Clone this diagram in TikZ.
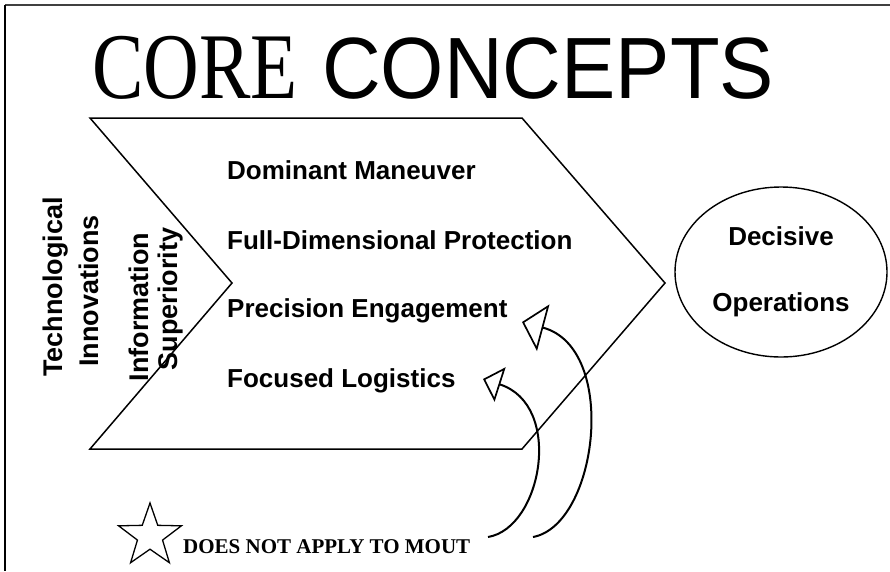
\documentclass[tikz,border=0pt]{standalone}
\usepackage{graphicx}
\usepackage{fontspec}
\setmainfont{Liberation Serif}
\newfontfamily\arialf{Liberation Sans}
\usetikzlibrary{shapes.geometric,arrows.meta}
\begin{document}
\begin{tikzpicture}[x=1pt,y=-1pt,
  item/.style={anchor=base west,inner sep=0pt,font=\arialf\bfseries\fontsize{26}{30}\selectfont},
  vert/.style={rotate=90,inner sep=0pt,font=\arialf\bfseries\fontsize{27}{33}\selectfont},
  outline/.style={line width=1.5pt,line join=miter},
  bigarr/.style={line width=2pt,-{Triangle[open,length=22pt,width=48pt,line width=1.7pt]}},
  smallarr/.style={line width=2pt,-{Triangle[open,length=18pt,width=36pt,line width=1.7pt]}}
]
\useasboundingbox (0,0) rectangle (890,571);
% frame
\draw[line width=2pt,black!75] (5,5) -- (890,5);
\draw[line width=2pt] (5,5) -- (5,571);
% title
\node[anchor=base west,inner sep=0pt,font=\fontsize{94}{100}\selectfont] (core) at (92,98) {\scalebox{0.82}[1]{CORE}};
\node[anchor=base west,inner sep=0pt,font=\arialf\fontsize{87}{100}\selectfont] (concepts) at (322,98) {\scalebox{0.935}[1]{CONCEPTS}};
% chevron
\coordinate (c1) at (90,118);
\coordinate (c2) at (522,118);
\coordinate (c3) at (665,283);
\coordinate (c4) at (522,449);
\coordinate (c5) at (90,449);
\coordinate (c6) at (232,283);
\draw[outline] (c1) -- (c2) -- (c3) -- (c4) -- (c5) -- (c6) -- cycle;
% vertical texts
\node[vert] (tech) at (56,287) {Technological};
\node[vert] (inno) at (89,291) {Innovations};
\node[vert] (info) at (139,307) {Information};
\node[vert] (sup) at (171,299) {Superiority};
% items
\node[item] (dom) at (227,179) {Dominant Maneuver};
\node[item] (full) at (227,249) {Full-Dimensional Protection};
\node[item] (prec) at (227,317) {Precision Engagement};
\node[item] (focu) at (227,387) {Focused Logistics};
% ellipse
\node[ellipse,draw,line width=1.4pt,minimum width=212pt,minimum height=170pt,inner sep=0pt,align=center,
  font=\arialf\bfseries\fontsize{26}{30}\selectfont] (dec) at (781,272) {Decisive\\[36pt]Operations};
% star and note
\node[star,star points=5,star point ratio=2.5,draw,line width=1.3pt,minimum size=66pt,inner sep=0pt] (star) at (150,536) {};
\node[anchor=base west,inner sep=0pt,font=\bfseries\fontsize{21}{25}\selectfont] (mout) at (183,553) {DOES NOT APPLY TO MOUT};
% curved arrows
\coordinate (a1s) at (533,537);
\coordinate (a1e) at (522,322);
\coordinate (a2s) at (488,537);
\coordinate (a2e) at (483,379);
\draw[bigarr] (a1s) .. controls (598,525) and (619,348) .. (a1e);
\draw[smallarr] (a2s) .. controls (542,528) and (564,405) .. (a2e);
\end{tikzpicture}
\end{document}
